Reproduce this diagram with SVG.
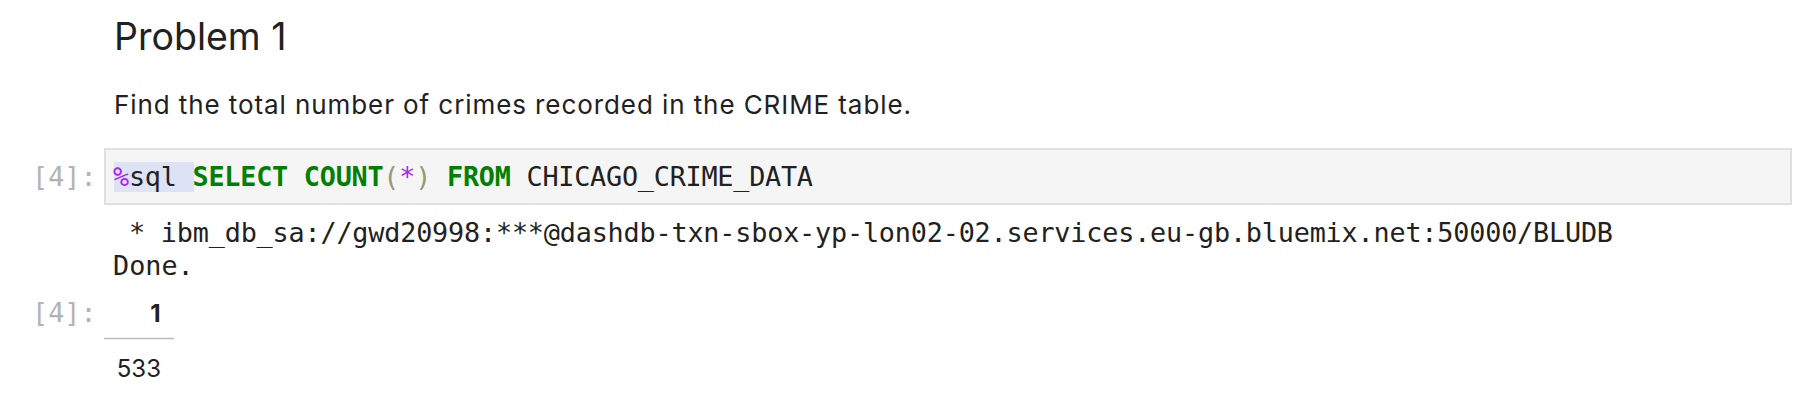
<svg xmlns="http://www.w3.org/2000/svg" width="1814" height="410" viewBox="0 0 1814 410">
<style>
.sans{font-family:Inter,"Liberation Sans",Arial,sans-serif;fill:#212121}
.mono{font-family:"DejaVu Sans Mono","Liberation Mono",monospace;font-size:26.8px;fill:#212121}
.prompt{font-family:"DejaVu Sans Mono","Liberation Mono",monospace;font-size:26.8px;fill:#b3b3b3}
.kw{fill:#008000;font-weight:bold}
.op{fill:#aa22ff}
.br{fill:#999977}
</style>
<rect width="1814" height="410" fill="#ffffff"/>
<g id="heading">
<text class="sans" x="114" y="50" font-size="37.5">Problem 1</text>
</g>
<g id="description">
<text class="sans" x="114" y="113.5" font-size="26" textLength="797" lengthAdjust="spacing">Find the total number of crimes recorded in the CRIME table.</text>
</g>
<g id="input-cell">
<text class="prompt" x="32" y="186">[4]:</text>
<rect x="105" y="149" width="1686" height="55" fill="#f5f5f5" stroke="#e0e0e0" stroke-width="2"/>
<rect x="114" y="162" width="80" height="30" fill="#dde3f5"/>
<text class="mono" x="113" y="186" xml:space="preserve" textLength="700" lengthAdjust="spacing"><tspan class="op">%</tspan>sql <tspan class="kw">SELECT</tspan> <tspan class="kw">COUNT</tspan><tspan class="br">(</tspan><tspan class="op">*</tspan><tspan class="br">)</tspan> <tspan class="kw">FROM</tspan> CHICAGO_CRIME_DATA</text>
</g>
<g id="output-log">
<text class="mono" x="113" y="241.5" xml:space="preserve" textLength="1500" lengthAdjust="spacing"> * ibm_db_sa://gwd20998:***@dashdb-txn-sbox-yp-lon02-02.services.eu-gb.bluemix.net:50000/BLUDB</text>
<text class="mono" x="113" y="275">Done.</text>
</g>
<g id="output-table">
<text class="prompt" x="32" y="322">[4]:</text>
<text class="sans" x="160.5" y="322" font-size="24" font-weight="bold" text-anchor="end">1</text>
<line x1="104" y1="338.5" x2="174" y2="338.5" stroke="#bdbdbd" stroke-width="1.6"/>
<text class="sans" x="161" y="377" font-size="24" text-anchor="end">533</text>
</g>
</svg>
